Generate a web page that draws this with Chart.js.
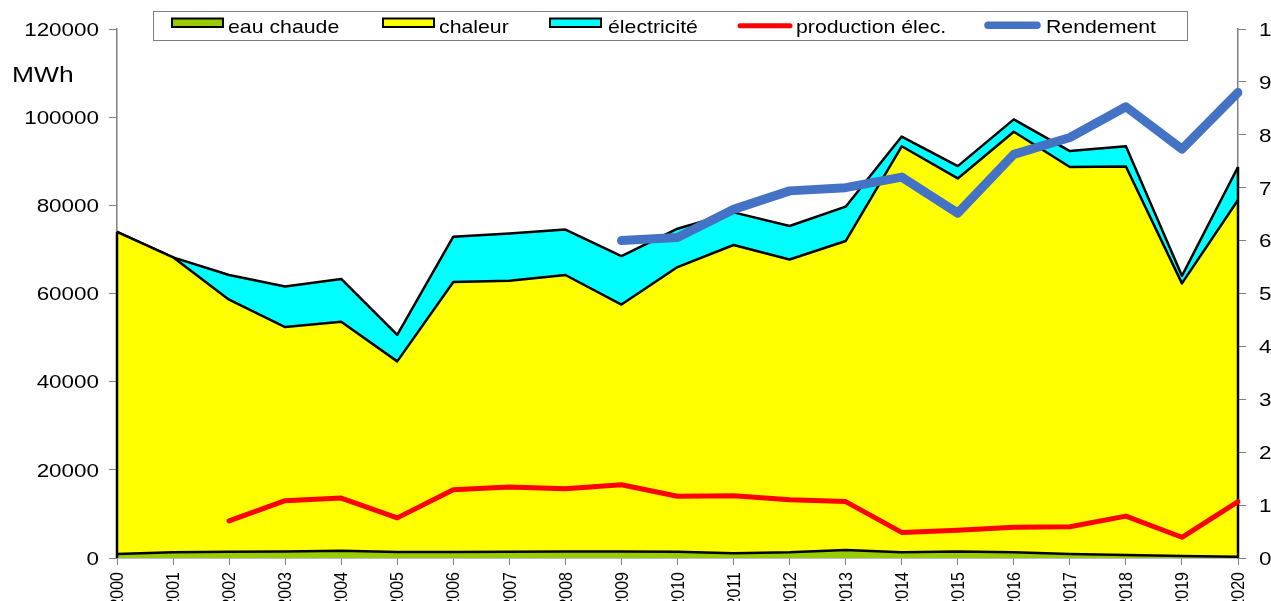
<!DOCTYPE html>
<html>
<head>
<meta charset="utf-8">
<script src="https://cdn.jsdelivr.net/npm/chart.js@4.4.1/dist/chart.umd.min.js"></script>
<style>
  html, body { margin: 0; padding: 0; background: #ffffff; overflow: hidden; }
  #c { display: block; }
</style>
</head>
<body>
<canvas id="c" width="1271" height="601"></canvas>
<script>
const years = ['2000','2001','2002','2003','2004','2005','2006','2007','2008','2009','2010',
               '2011','2012','2013','2014','2015','2016','2017','2018','2019','2020'];
const eauChaude = [900,1300,1400,1500,1650,1350,1350,1400,1500,1500,1400,
                   1100,1300,1800,1300,1500,1300,900,700,450,300];
const chaleur = [73100,66900,57200,50900,51950,43250,61250,61500,62700,56000,64600,
                 69900,66400,70100,92100,84600,95400,87800,88100,61850,80900];
const electricite = [0,0,5600,9200,9700,6000,10300,10700,10300,11000,8700,
                     7400,7600,7800,2200,2800,2800,3600,4600,1700,7500];
const productionElec = [null,null,8400,13000,13600,9100,15500,16100,15700,16600,14000,
                        14100,13200,12800,5800,6300,7000,7100,9500,4700,12800];
const rendement = [null,null,null,null,null,null,null,null,null,60.0,60.6,
                   65.9,69.4,70.0,72.0,65.2,76.3,79.5,85.3,77.3,88.0];
const leftTicks = [0,20000,40000,60000,80000,100000,120000];
const rightTicks = [0,10,20,30,40,50,60,70,80,90,100];
const legendLabels = ['eau chaude','chaleur','électricité','production élec.','Rendement'];

const FONT = '"Liberation Sans", Arial, sans-serif';

function sText(ctx, text, x, y, align, size, sx) {
  ctx.save();
  ctx.translate(x, y);
  ctx.scale(sx, 1);
  ctx.font = size + 'px ' + FONT;
  ctx.textAlign = align;
  ctx.textBaseline = 'alphabetic';
  ctx.fillStyle = '#000000';
  ctx.fillText(text, 0, 0);
  ctx.restore();
}

const decorPlugin = {
  id: 'decor',
  afterDatasetDraw(chart, args) {
    if (args.index !== 0) return;
    const ctx = chart.ctx;
    const x = chart.scales.x, y = chart.scales.y;
    ctx.save();
    ctx.strokeStyle = '#000000';
    ctx.lineWidth = 2.5;
    [0, years.length - 1].forEach(i => {
      const tot = eauChaude[i] + chaleur[i] + electricite[i];
      const px = x.getPixelForValue(i);
      ctx.beginPath();
      ctx.moveTo(px, y.getPixelForValue(tot));
      ctx.lineTo(px, y.getPixelForValue(0));
      ctx.stroke();
    });
    ctx.restore();
  },
  afterDraw(chart) {
    const ctx = chart.ctx;
    const x = chart.scales.x, y = chart.scales.y, y1 = chart.scales.y1;
    leftTicks.forEach(v => {
      sText(ctx, String(v), 99, y.getPixelForValue(v) + 6.8, 'right', 19, 1.18);
    });
    rightTicks.forEach(v => {
      sText(ctx, v + '%', 1259, y1.getPixelForValue(v) + 6.8, 'left', 19, 1.18);
    });
    years.forEach((lab, i) => {
      const px = x.getPixelForValue(i);
      ctx.save();
      ctx.translate(px + 1, 572);
      ctx.rotate(-Math.PI / 2);
      ctx.scale(1, 1.18);
      ctx.font = '16px ' + FONT;
      ctx.textAlign = 'right';
      ctx.textBaseline = 'middle';
      ctx.fillStyle = '#000000';
      ctx.fillText(lab, 0, 0);
      ctx.restore();
    });
    sText(ctx, 'MWh', 12, 82, 'left', 22, 1.2);

    ctx.save();
    ctx.fillStyle = '#ffffff';
    ctx.fillRect(153, 11.5, 1034, 29);
    ctx.strokeStyle = '#7f7f7f';
    ctx.lineWidth = 1;
    ctx.strokeRect(153.5, 11.5, 1034, 29);
    const sw = [
      {x: 172, color: '#99cc00'},
      {x: 383, color: '#ffff00'},
      {x: 550, color: '#00ffff'}
    ];
    sw.forEach(s => {
      ctx.fillStyle = s.color;
      ctx.fillRect(s.x, 18.5, 51, 8.5);
      ctx.strokeStyle = '#000000';
      ctx.lineWidth = 2;
      ctx.strokeRect(s.x, 18.5, 51, 8.5);
    });
    ctx.lineCap = 'round';
    ctx.strokeStyle = '#ff0000';
    ctx.lineWidth = 5;
    ctx.beginPath(); ctx.moveTo(740, 25.8); ctx.lineTo(790, 25.8); ctx.stroke();
    ctx.strokeStyle = '#4472c4';
    ctx.lineWidth = 7.5;
    ctx.beginPath(); ctx.moveTo(988, 25.3); ctx.lineTo(1037, 25.3); ctx.stroke();
    ctx.restore();
    const tx = [228, 439, 608, 796, 1046];
    legendLabels.forEach((t, i) => sText(ctx, t, tx[i], 33, 'left', 19, 1.12));
  }
};

const areaCommon = {
  borderColor: '#000000',
  borderWidth: 2.5,
  pointRadius: 0,
  pointHoverRadius: 0,
  tension: 0,
  stack: 'area',
  order: 1,
  yAxisID: 'y',
  borderJoinStyle: 'round'
};

new Chart(document.getElementById('c'), {
  type: 'line',
  data: {
    labels: years,
    datasets: [
      Object.assign({}, areaCommon, {label: legendLabels[0], data: eauChaude, backgroundColor: '#99cc00', fill: 'origin'}),
      Object.assign({}, areaCommon, {label: legendLabels[1], data: chaleur, backgroundColor: '#ffff00', fill: '-1'}),
      Object.assign({}, areaCommon, {label: legendLabels[2], data: electricite, backgroundColor: '#00ffff', fill: '-1'}),
      {
        label: legendLabels[3], data: productionElec, borderColor: '#ff0000', borderWidth: 5,
        pointRadius: 0, pointHoverRadius: 0, fill: false, tension: 0, stack: 'prod', order: 0,
        yAxisID: 'y', borderCapStyle: 'round', borderJoinStyle: 'round', spanGaps: false
      },
      {
        label: legendLabels[4], data: rendement, borderColor: '#4472c4', borderWidth: 9,
        pointRadius: 0, pointHoverRadius: 0, fill: false, tension: 0, stack: 'rend', order: 0,
        yAxisID: 'y1', borderCapStyle: 'round', borderJoinStyle: 'round', spanGaps: false
      }
    ]
  },
  options: {
    responsive: false,
    animation: false,
    events: [],
    layout: { padding: { top: 29, left: 0, right: 0, bottom: 0 } },
    plugins: {
      legend: { display: false },
      tooltip: { enabled: false },
      filler: { drawTime: 'beforeDatasetDraw' }
    },
    scales: {
      x: {
        type: 'category',
        offset: false,
        grid: { display: true, drawOnChartArea: false, drawTicks: true, tickLength: 7, color: '#808080', lineWidth: 1 },
        border: { display: true, color: '#808080', width: 1.5 },
        ticks: { display: false },
        afterFit(s) { s.height = 43; }
      },
      y: {
        position: 'left',
        stacked: true,
        min: 0, max: 120000,
        ticks: { display: false, stepSize: 20000 },
        grid: { display: true, drawOnChartArea: false, drawTicks: true, tickLength: 8, color: '#808080', lineWidth: 1 },
        border: { display: true, color: '#808080', width: 1.5 },
        afterFit(s) { s.width = 117; }
      },
      y1: {
        position: 'right',
        min: 0, max: 100,
        ticks: { display: false, stepSize: 10 },
        grid: { display: true, drawOnChartArea: false, drawTicks: true, tickLength: 8, color: '#808080', lineWidth: 1 },
        border: { display: true, color: '#808080', width: 1.5 },
        afterFit(s) { s.width = 33; }
      }
    }
  },
  plugins: [decorPlugin]
});
</script>
</body>
</html>
